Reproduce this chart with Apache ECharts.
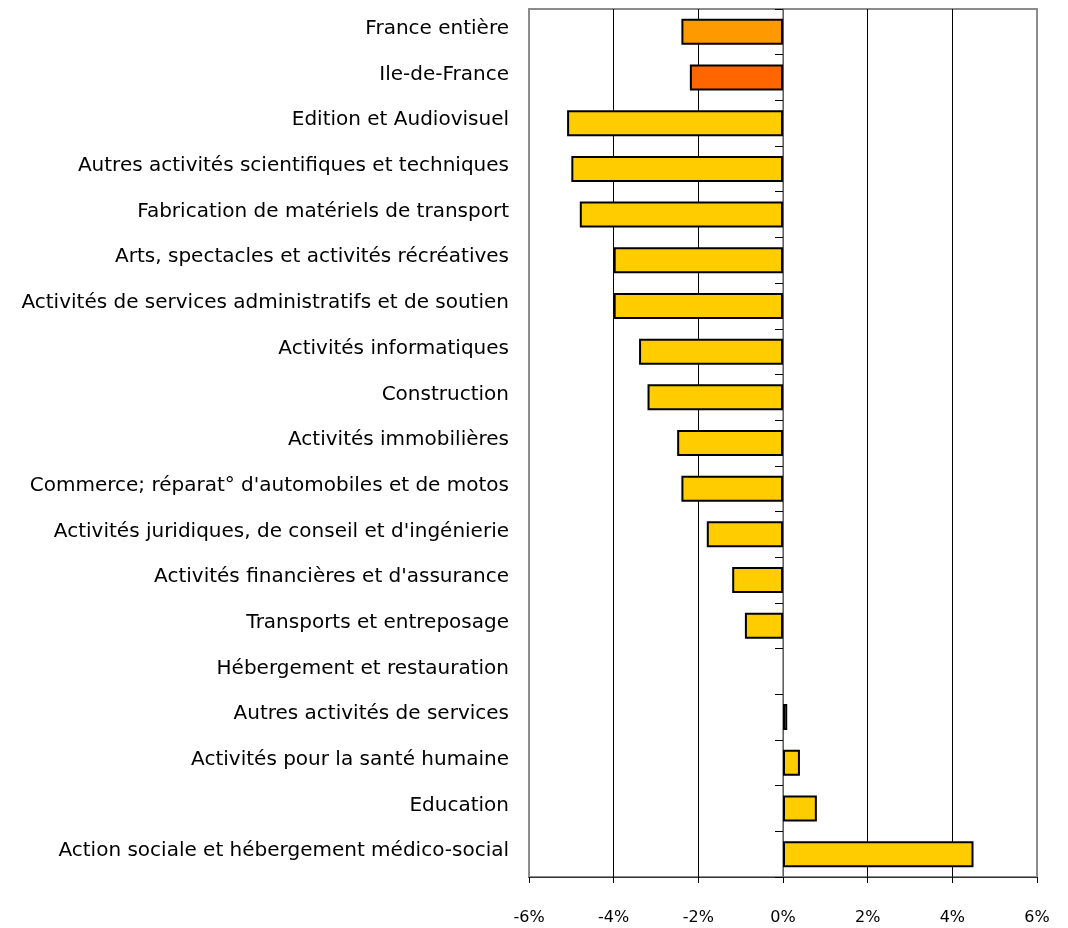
<!DOCTYPE html>
<html>
<head>
<meta charset="utf-8">
<script src="https://cdn.jsdelivr.net/npm/echarts@6/dist/echarts.min.js"></script>
<style>
  html, body { margin: 0; padding: 0; background: #fff; }
  #chart { width: 1068px; height: 928px; }
</style>
</head>
<body>
<div id="chart"></div>
<script>
const categories = [
  "France entière",
  "Ile-de-France",
  "Edition et Audiovisuel",
  "Autres activités scientifiques et techniques",
  "Fabrication de matériels de transport",
  "Arts, spectacles et activités récréatives",
  "Activités de services administratifs et de soutien",
  "Activités informatiques",
  "Construction",
  "Activités immobilières",
  "Commerce; réparat° d'automobiles et de motos",
  "Activités juridiques, de conseil et d'ingénierie",
  "Activités financières et d'assurance",
  "Transports et entreposage",
  "Hébergement et restauration",
  "Autres activités de services",
  "Activités pour la santé humaine",
  "Education",
  "Action sociale et hébergement médico-social",
];
// evolution in % (no value drawn for Hébergement et restauration)
const values = [-2.4, -2.2, -5.1, -5.0, -4.8, -4.0, -4.0, -3.4, -3.2, -2.5,
  -2.4, -1.8, -1.2, -0.9, null, 0.1, 0.4, 0.8, 4.5];
const xTicks = { min: -6, max: 6, step: 2 };

const barColor = (name) => {
  if (name === "France entière") return "#FF9900";
  if (name === "Ile-de-France") return "#FF6600";
  return "#FFCC00";
};

const chart = echarts.init(document.getElementById("chart"), null, { renderer: "canvas" });
const font = "DejaVu Sans";

chart.setOption({
  animation: false,
  grid: {
    left: 529, right: 31, top: 9, bottom: 51,
    show: true, borderColor: "#8c8c8c", borderWidth: 2,
  },
  xAxis: {
    type: "value",
    min: xTicks.min, max: xTicks.max, interval: xTicks.step,
    axisLine: { show: true, onZero: false, lineStyle: { color: "#333", width: 1 } },
    axisTick: { show: true, length: 6, lineStyle: { color: "#000" } },
    axisLabel: {
      formatter: "{value}%", margin: 33,
      fontFamily: font, fontSize: 16, color: "#000",
    },
    splitLine: {
      show: true, showMinLine: false, showMaxLine: false,
      lineStyle: { color: "#000", width: 1 },
    },
  },
  yAxis: [
    {
      type: "category", inverse: true, data: categories, position: "left",
      axisLine: { show: false, onZero: false }, axisTick: { show: false },
      axisLabel: {
        margin: 20, fontFamily: font, fontSize: 20, color: "#000",
        verticalAlign: "bottom", lineHeight: 6,
      },
    },
    {
      type: "category", inverse: true, data: categories, position: "right",
      axisLine: { show: true, onZero: true, lineStyle: { color: "#808080", width: 1.5 } },
      axisTick: { show: true, inside: true, length: 8, lineStyle: { color: "#000" } },
      axisLabel: { show: false },
    },
  ],
  series: [{
    type: "bar",
    yAxisIndex: 0,
    data: values,
    barWidth: 26,
    itemStyle: {
      color: (p) => barColor(p.name),
      borderColor: "#000", borderWidth: 2,
    },
  }],
});
</script>
</body>
</html>
